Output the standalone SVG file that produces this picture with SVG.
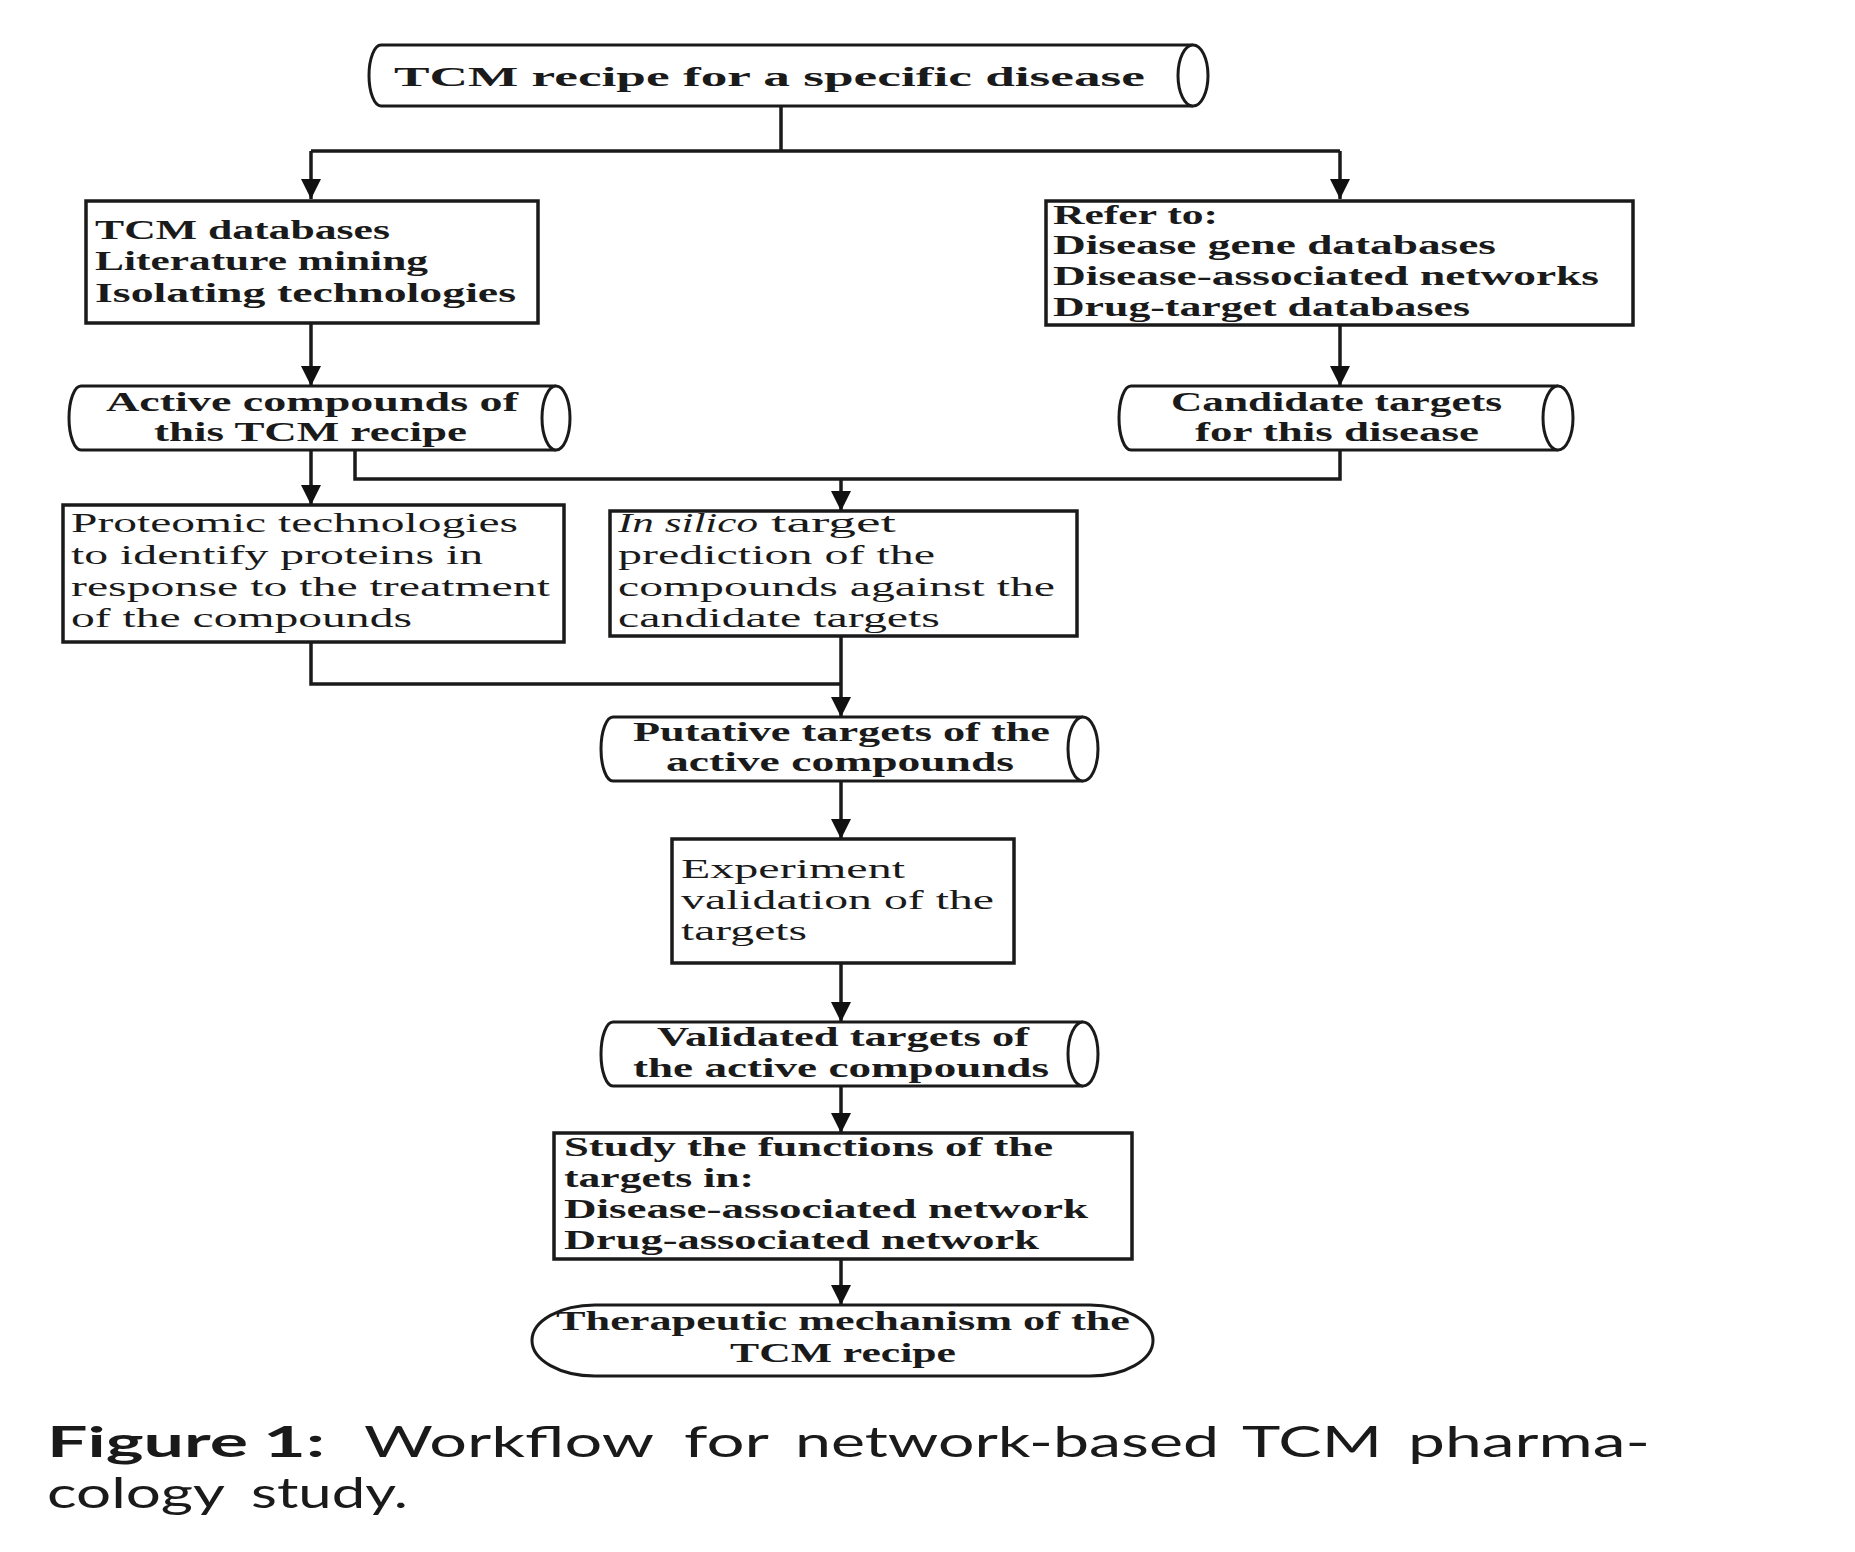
<svg xmlns="http://www.w3.org/2000/svg" width="1855" height="1552" viewBox="0 0 1855 1552">
<defs>
<marker id="arr" markerUnits="userSpaceOnUse" markerWidth="22" markerHeight="20" refX="20" refY="10" orient="auto">
<path d="M0,0 L20,10 L0,20 Z" fill="#111"/>
</marker>
<style>
.box{fill:#fff;stroke:#1a1a1a;stroke-width:3.5}
.cyl{fill:#fff;stroke:#1a1a1a;stroke-width:3}
.ln{fill:none;stroke:#1a1a1a;stroke-width:3.5}
.t{font-family:"Liberation Serif","Times New Roman",serif;font-size:27px;fill:#1a1a1a}
.b{font-weight:bold}
.cap{font-family:Lato,"Open Sans",sans-serif;font-size:42px;fill:#1a1a1a}
</style>
</defs>
<rect width="1855" height="1552" fill="#fff"/>

<g id="connectors">
<path class="ln" d="M781,106 V151 M311,151 H1340"/>
<path class="ln" d="M311,151 V199" marker-end="url(#arr)"/>
<path class="ln" d="M1340,151 V199" marker-end="url(#arr)"/>
<path class="ln" d="M311,323 V386" marker-end="url(#arr)"/>
<path class="ln" d="M1340,325 V386" marker-end="url(#arr)"/>
<path class="ln" d="M311,450 V505" marker-end="url(#arr)"/>
<path class="ln" d="M355,450 V479 H1340 V450"/>
<path class="ln" d="M841,479 V511" marker-end="url(#arr)"/>
<path class="ln" d="M311,642 V684 H841"/>
<path class="ln" d="M841,636 V717" marker-end="url(#arr)"/>
<path class="ln" d="M841,781 V839" marker-end="url(#arr)"/>
<path class="ln" d="M841,963 V1022" marker-end="url(#arr)"/>
<path class="ln" d="M841,1086 V1133" marker-end="url(#arr)"/>
<path class="ln" d="M841,1259 V1305" marker-end="url(#arr)"/>
</g>

<g id="n_recipe">
<path class="cyl" d="M1193,45 L381,45 A12,30.5 0 0 0 381,106 L1193,106"/>
<ellipse class="cyl" cx="1193" cy="75.5" rx="15" ry="30.5"/>
<text class="t b" x="394" y="86" font-size="31" textLength="751" lengthAdjust="spacingAndGlyphs">TCM recipe for a specific disease</text>
</g>

<g id="n_tcmdb">
<rect class="box" x="86" y="201" width="452" height="122"/>
<text class="t b" x="95" y="239" textLength="295" lengthAdjust="spacingAndGlyphs">TCM databases</text>
<text class="t b" x="95" y="270" textLength="333" lengthAdjust="spacingAndGlyphs">Literature mining</text>
<text class="t b" x="95" y="302" textLength="421" lengthAdjust="spacingAndGlyphs">Isolating technologies</text>
</g>

<g id="n_refer">
<rect class="box" x="1046" y="201" width="587" height="124"/>
<text class="t b" x="1053" y="224" textLength="165" lengthAdjust="spacingAndGlyphs">Refer to:</text>
<text class="t b" x="1053" y="254" textLength="443" lengthAdjust="spacingAndGlyphs">Disease gene databases</text>
<text class="t b" x="1053" y="285" textLength="546" lengthAdjust="spacingAndGlyphs">Disease-associated networks</text>
<text class="t b" x="1053" y="316" textLength="417" lengthAdjust="spacingAndGlyphs">Drug-target databases</text>
</g>

<g id="n_active">
<path class="cyl" d="M556,386 L81,386 A12,32 0 0 0 81,450 L556,450"/>
<ellipse class="cyl" cx="556" cy="418" rx="14" ry="32"/>
<text class="t b" x="106" y="411" textLength="412" lengthAdjust="spacingAndGlyphs">Active compounds of</text>
<text class="t b" x="154" y="441" textLength="313" lengthAdjust="spacingAndGlyphs">this TCM recipe</text>
</g>

<g id="n_candidate">
<path class="cyl" d="M1558,386 L1131,386 A12,32 0 0 0 1131,450 L1558,450"/>
<ellipse class="cyl" cx="1558" cy="418" rx="15" ry="32"/>
<text class="t b" x="1171" y="411" textLength="331" lengthAdjust="spacingAndGlyphs">Candidate targets</text>
<text class="t b" x="1195" y="441" textLength="284" lengthAdjust="spacingAndGlyphs">for this disease</text>
</g>

<g id="n_proteomic">
<rect class="box" x="63" y="505" width="501" height="137"/>
<text class="t" x="71" y="532" textLength="447" lengthAdjust="spacingAndGlyphs">Proteomic technologies</text>
<text class="t" x="71" y="564" textLength="412" lengthAdjust="spacingAndGlyphs">to identify proteins in</text>
<text class="t" x="71" y="596" textLength="479" lengthAdjust="spacingAndGlyphs">response to the treatment</text>
<text class="t" x="71" y="627" textLength="341" lengthAdjust="spacingAndGlyphs">of the compounds</text>
</g>

<g id="n_insilico">
<rect class="box" x="610" y="511" width="467" height="125"/>
<text class="t" x="618" y="532" font-style="italic" textLength="140" lengthAdjust="spacingAndGlyphs">In silico</text>
<text class="t" x="771" y="532" textLength="125" lengthAdjust="spacingAndGlyphs">target</text>
<text class="t" x="618" y="564" textLength="317" lengthAdjust="spacingAndGlyphs">prediction of the</text>
<text class="t" x="618" y="596" textLength="437" lengthAdjust="spacingAndGlyphs">compounds against the</text>
<text class="t" x="618" y="627" textLength="322" lengthAdjust="spacingAndGlyphs">candidate targets</text>
</g>

<g id="n_putative">
<path class="cyl" d="M1083,717 L613,717 A12,32 0 0 0 613,781 L1083,781"/>
<ellipse class="cyl" cx="1083" cy="749" rx="15" ry="32"/>
<text class="t b" x="633" y="741" textLength="417" lengthAdjust="spacingAndGlyphs">Putative targets of the</text>
<text class="t b" x="666" y="771" textLength="348" lengthAdjust="spacingAndGlyphs">active compounds</text>
</g>

<g id="n_experiment">
<rect class="box" x="672" y="839" width="342" height="124"/>
<text class="t" x="681" y="878" textLength="224" lengthAdjust="spacingAndGlyphs">Experiment</text>
<text class="t" x="681" y="909" textLength="313" lengthAdjust="spacingAndGlyphs">validation of the</text>
<text class="t" x="681" y="940" textLength="126" lengthAdjust="spacingAndGlyphs">targets</text>
</g>

<g id="n_validated">
<path class="cyl" d="M1083,1022 L613,1022 A12,32 0 0 0 613,1086 L1083,1086"/>
<ellipse class="cyl" cx="1083" cy="1054" rx="15" ry="32"/>
<text class="t b" x="657" y="1046" textLength="372" lengthAdjust="spacingAndGlyphs">Validated targets of</text>
<text class="t b" x="633" y="1077" textLength="416" lengthAdjust="spacingAndGlyphs">the active compounds</text>
</g>

<g id="n_study">
<rect class="box" x="554" y="1133" width="578" height="126"/>
<text class="t b" x="564" y="1156" textLength="489" lengthAdjust="spacingAndGlyphs">Study the functions of the</text>
<text class="t b" x="564" y="1187" textLength="190" lengthAdjust="spacingAndGlyphs">targets in:</text>
<text class="t b" x="564" y="1218" textLength="524" lengthAdjust="spacingAndGlyphs">Disease-associated network</text>
<text class="t b" x="564" y="1249" textLength="475" lengthAdjust="spacingAndGlyphs">Drug-associated network</text>
</g>

<g id="n_therapeutic">
<path class="cyl" d="M595,1305 L1090,1305 A63,35.5 0 0 1 1090,1376 L595,1376 A63,35.5 0 0 1 595,1305 Z"/>
<text class="t b" x="556" y="1330" textLength="574" lengthAdjust="spacingAndGlyphs">Therapeutic mechanism of the</text>
<text class="t b" x="730" y="1362" textLength="226" lengthAdjust="spacingAndGlyphs">TCM recipe</text>
</g>

<g id="caption">
<text class="cap" font-weight="bold" x="47" y="1457" textLength="201" lengthAdjust="spacingAndGlyphs">Figure</text>
<text class="cap" font-weight="bold" x="263" y="1457" textLength="62" lengthAdjust="spacingAndGlyphs">1:</text>
<text class="cap" x="364" y="1457" textLength="290" lengthAdjust="spacingAndGlyphs">Workflow</text>
<text class="cap" x="684" y="1457" textLength="85" lengthAdjust="spacingAndGlyphs">for</text>
<text class="cap" x="795" y="1457" textLength="424" lengthAdjust="spacingAndGlyphs">network-based</text>
<text class="cap" x="1242" y="1457" textLength="140" lengthAdjust="spacingAndGlyphs">TCM</text>
<text class="cap" x="1408" y="1457" textLength="242" lengthAdjust="spacingAndGlyphs">pharma-</text>
<text class="cap" x="47" y="1508" textLength="178" lengthAdjust="spacingAndGlyphs">cology</text>
<text class="cap" x="251" y="1508" textLength="157" lengthAdjust="spacingAndGlyphs">study.</text>
</g>
</svg>
